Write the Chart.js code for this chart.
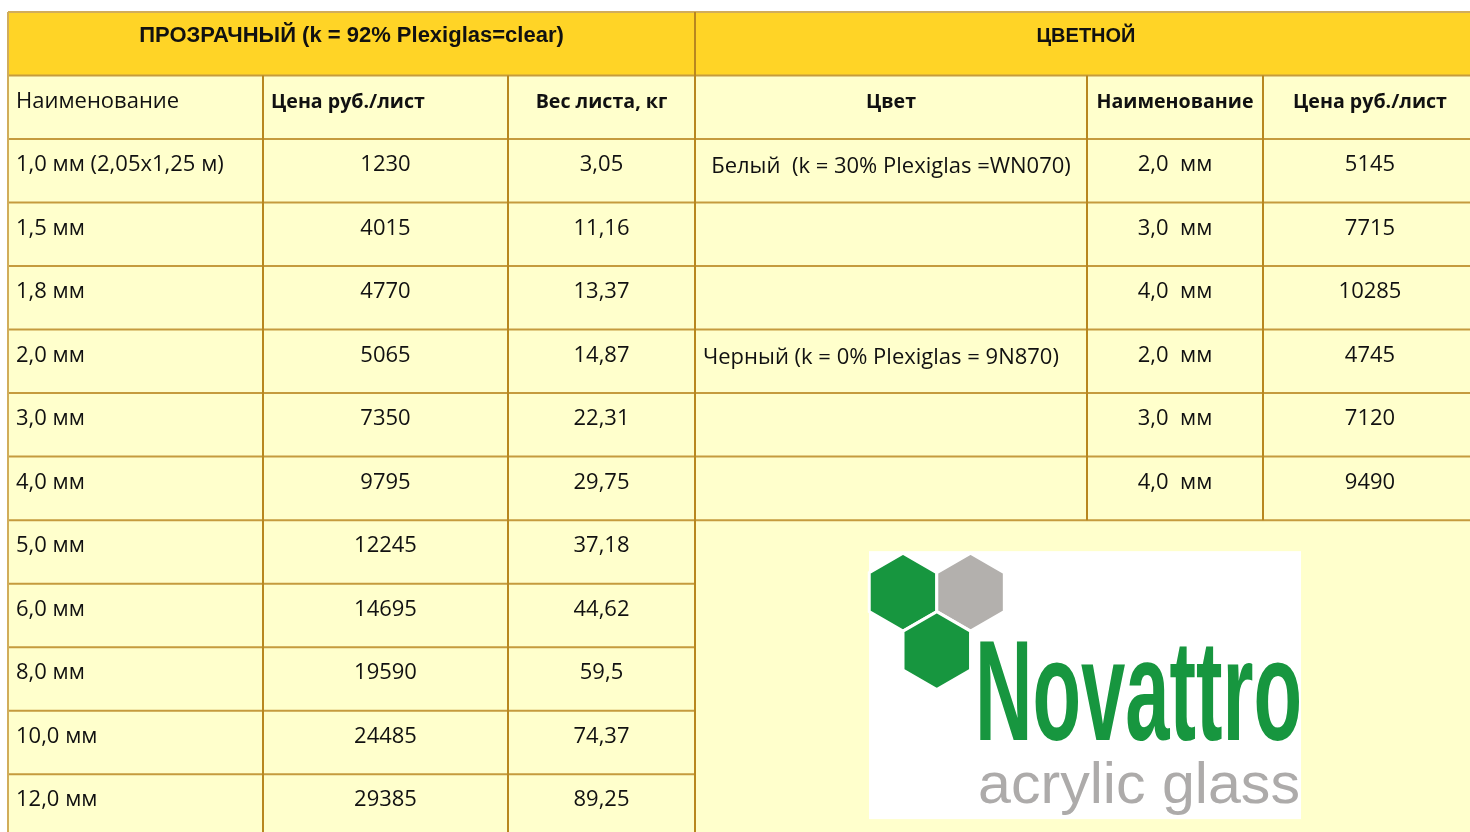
<!DOCTYPE html>
<html>
<head>
<meta charset="utf-8">
<script src="https://cdn.jsdelivr.net/npm/chart.js@4.4.0/dist/chart.umd.min.js"></script>
<style>
  html, body { margin: 0; padding: 0; background: #fff; overflow: hidden; }
</style>
</head>
<body>
<canvas id="tbl" width="1470" height="832"></canvas>
<script>
// left block: clear sheets
const clearTitle = 'ПРОЗРАЧНЫЙ (k = 92% Plexiglas=clear)';
const clearHeads = ['Наименование', 'Цена руб./лист', 'Вес листа, кг'];
const clearNames = ['1,0 мм (2,05x1,25 м)', '1,5 мм', '1,8 мм', '2,0 мм', '3,0 мм', '4,0 мм',
    '5,0 мм', '6,0 мм', '8,0 мм', '10,0 мм', '12,0 мм'];
const clearPrices = [1230, 4015, 4770, 5065, 7350, 9795, 12245, 14695, 19590, 24485, 29385];
const clearWeights = [3.05, 11.16, 13.37, 14.87, 22.31, 29.75, 37.18, 44.62, 59.5, 74.37, 89.25];

// right block: coloured sheets
const colorTitle = 'ЦВЕТНОЙ';
const colorHeads = ['Цвет', 'Наименование', 'Цена руб./лист'];
const colorNames = ['Белый  (k = 30% Plexiglas =WN070)', '', '', 'Черный (k = 0% Plexiglas = 9N870)', '', ''];
const colorSizes = ['2,0  мм', '3,0  мм', '4,0  мм', '2,0  мм', '3,0  мм', '4,0  мм'];
const colorPrices = [5145, 7715, 10285, 4745, 7120, 9490];

// layout (column widths in x-scale units, rows are 1 unit each)
const colW = [255, 245, 187, 392, 176, 214];
const colEdge = colW.reduce((a, w) => { a.push(a[a.length - 1] + w); return a; }, [0]);
const lastRow = 2 + clearNames.length;
const colorEnd = 2 + colorNames.length;

const fmt = v => String(v).replace('.', ',');

// regular text: Open Sans squashed a bit vertically to look like Calibri
function txt(ctx, s, x, y, align, sx = 1, sy = 0.95) {
    ctx.save();
    ctx.translate(x, y);
    ctx.scale(sx, sy);
    ctx.textAlign = align;
    ctx.fillText(s, 0, 0);
    ctx.restore();
}

function hex(ctx, cx, cy, r, color) {
    ctx.beginPath();
    for (let i = 0; i < 6; i++) {
        const a = Math.PI / 180 * (60 * i - 90);
        ctx.lineTo(cx + r * Math.cos(a), cy + r * Math.sin(a));
    }
    ctx.closePath();
    ctx.fillStyle = color;
    ctx.fill();
    ctx.lineWidth = 3;
    ctx.strokeStyle = '#fff';
    ctx.stroke();
}

function fitText(ctx, s, x, y, w) {
    const m = ctx.measureText(s).width;
    ctx.save();
    ctx.translate(x, y);
    ctx.scale(w / m, 1);
    ctx.textAlign = 'left';
    ctx.fillText(s, 0, 0);
    ctx.restore();
}

const tablePlugin = {
    id: 'table',
    afterDraw(chart) {
        const ctx = chart.ctx;
        const X = v => chart.scales.x.getPixelForValue(v);
        const Y = v => chart.scales.y.getPixelForValue(v);
        const xe = i => X(colEdge[i]);
        const full = colEdge[colEdge.length - 1];

        ctx.save();
        // backgrounds
        ctx.fillStyle = '#ffd426';
        ctx.fillRect(X(0), Y(0), X(full) - X(0), Y(1) - Y(0));
        ctx.fillStyle = '#ffffcc';
        ctx.fillRect(X(0), Y(1), X(full) - X(0), Y(lastRow) - Y(1));

        // lines
        const hline = (r, c0, c1, col) => {
            ctx.strokeStyle = col; ctx.lineWidth = 2;
            ctx.beginPath(); ctx.moveTo(xe(c0), Y(r)); ctx.lineTo(xe(c1), Y(r)); ctx.stroke();
        };
        const vline = (c, r0, r1, col) => {
            ctx.strokeStyle = col; ctx.lineWidth = 2;
            ctx.beginPath(); ctx.moveTo(xe(c), Y(r0)); ctx.lineTo(xe(c), Y(r1)); ctx.stroke();
        };
        hline(0, 0, 6, '#d1ad5a');
        for (let r = 1; r < lastRow; r++) hline(r, 0, 3, '#c59b3e');
        for (let r = 1; r <= colorEnd; r++) hline(r, 3, 6, '#c59b3e');
        vline(0, 0, lastRow, '#d1ad5a');
        vline(3, 0, lastRow, '#b8871f');
        vline(1, 1, lastRow, '#b8871f');
        vline(2, 1, lastRow, '#b8871f');
        vline(4, 1, colorEnd, '#b8871f');
        vline(5, 1, colorEnd, '#b8871f');

        // texts
        const base = r => Y(r) + 32;
        const mid = c => (xe(c) + xe(c + 1)) / 2;
        ctx.fillStyle = '#111';
        ctx.textBaseline = 'alphabetic';
        ctx.textAlign = 'center';
        ctx.font = 'bold 22px "Liberation Sans"';
        ctx.fillText(clearTitle, (xe(0) + xe(3)) / 2, base(0) - 2);
        ctx.font = 'bold 20px "Liberation Sans"';
        ctx.fillText(colorTitle, (xe(3) + xe(6)) / 2, base(0) - 2);

        ctx.font = '22px "Open Sans"';
        txt(ctx, clearHeads[0], xe(0) + 8, base(1), 'left');
        ctx.font = 'bold 20px "Open Sans"';
        txt(ctx, clearHeads[1], xe(1) + 8, base(1), 'left', 0.98, 0.97);
        txt(ctx, clearHeads[2], mid(2), base(1), 'center', 0.98, 0.97);
        txt(ctx, colorHeads[0], mid(3), base(1), 'center', 0.98, 0.97);
        txt(ctx, colorHeads[1], mid(4), base(1), 'center', 0.98, 0.97);
        txt(ctx, colorHeads[2], mid(5), base(1), 'center', 0.98, 0.97);

        ctx.font = '22px "Open Sans"';
        clearNames.forEach((n, i) => {
            txt(ctx, n, xe(0) + 8, base(i + 2), 'left');
            txt(ctx, String(clearPrices[i]), mid(1), base(i + 2), 'center');
            txt(ctx, fmt(clearWeights[i]), mid(2), base(i + 2), 'center');
        });
        colorNames.forEach((n, i) => {
            if (n) {
                if (i === 0) txt(ctx, n, mid(3), base(i + 2) + 2, 'center');
                else txt(ctx, n, xe(3) + 8, base(i + 2) + 2, 'left');
            }
            txt(ctx, colorSizes[i], mid(4), base(i + 2), 'center');
            txt(ctx, String(colorPrices[i]), mid(5), base(i + 2), 'center');
        });

        // logo in the merged area
        const L = xe(3), T = Y(colorEnd);
        ctx.fillStyle = '#fff';
        ctx.fillRect(L + 174, T + 31, 432, 268);
        const r = 39, dx = Math.sqrt(3) * r;
        hex(ctx, L + 208, T + 72, r, '#17963f');
        hex(ctx, L + 208 + dx, T + 72, r, '#b3b0ad');
        hex(ctx, L + 208 + dx / 2, T + 72 + 1.5 * r, r, '#17963f');
        ctx.fillStyle = '#17963f';
        ctx.font = 'bold 142px "Liberation Sans"';
        fitText(ctx, 'Novattro', L + 280, T + 220, 327);
        ctx.fillStyle = '#adabaa';
        ctx.font = '58px "Liberation Sans"';
        fitText(ctx, 'acrylic glass', L + 283, T + 283, 322);
        ctx.restore();
    }
};

new Chart(document.getElementById('tbl'), {
    type: 'scatter',
    data: { datasets: [] },
    options: {
        responsive: false,
        animation: false,
        layout: { padding: { left: 8, top: 12, right: 0, bottom: 0 } },
        plugins: { legend: { display: false }, tooltip: { enabled: false } },
        scales: {
            x: { type: 'linear', min: 0, max: 1462, display: false },
            y: { type: 'linear', min: 0, max: 12.91, reverse: true, display: false }
        }
    },
    plugins: [tablePlugin]
});
</script>
</body>
</html>
